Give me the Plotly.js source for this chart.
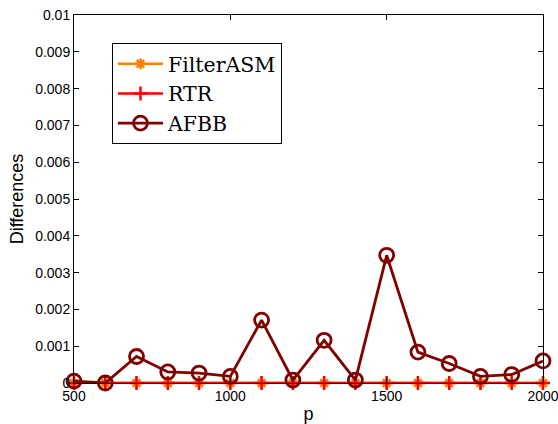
<!DOCTYPE html>
<html><head><meta charset="utf-8">
<script src="https://cdn.plot.ly/plotly-3.0.1.min.js"></script>
<style>html,body{margin:0;padding:0;background:#fff}</style>
</head><body><div id="chart" style="width:558px;height:424px"></div>
<script>
const p = [500,600,700,800,900,1000,1100,1200,1300,1400,1500,1600,1700,1800,1900,2000];
const filterASM = [0,0,0,0,0,0,0,0,0,0,0,0,0,0,0,0];
const rtr = [0,0,0,0,0,0,0,0,0,0,0,0,0,0,0,0];
const afbb = [0.00005,0.0,0.00072,0.0003,0.00027,0.00018,0.00171,0.00008,0.00116,0.00008,0.00347,0.00084,0.00053,0.00018,0.00023,0.0006];
const xTicks = [500,1000,1500,2000];
const yTicks = [0,0.001,0.002,0.003,0.004,0.005,0.006,0.007,0.008,0.009,0.01];
const yTickText = ['0','0.001','0.002','0.003','0.004','0.005','0.006','0.007','0.008','0.009','0.01'];

const traces = [
  {x:p, y:filterASM, name:'FilterASM', mode:'lines+markers', cliponaxis:false,
   line:{color:'#FF8000', width:2.5}, marker:{symbol:'asterisk-open', size:9, color:'#FF8000', line:{color:'#FF8000', width:2.5}}},
  {x:p, y:rtr, name:'RTR', mode:'lines+markers', cliponaxis:false,
   line:{color:'#FF0000', width:2.5}, marker:{symbol:'cross-thin-open', size:10, color:'#FF0000', line:{color:'#FF0000', width:2.5}}},
  {x:p, y:afbb, name:'AFBB', mode:'lines+markers', cliponaxis:false,
   line:{color:'#800000', width:2.8}, marker:{symbol:'circle-open', size:14, color:'#800000', line:{color:'#800000', width:2.8}}}
];

const layout = {
  width:558, height:424,
  margin:{l:74, r:15, t:15, b:41},
  paper_bgcolor:'#fff', plot_bgcolor:'#fff',
  showlegend:true,
  font:{family:'Liberation Sans, Arial, sans-serif', size:14, color:'#000'},
  xaxis:{range:[500,2000], tickvals:xTicks, ticktext:xTicks.map(String), ticks:'inside', ticklen:5, tickcolor:'#000',
    showline:true, linecolor:'#000', linewidth:1, mirror:'ticks', showgrid:false, zeroline:false,
    ticklabeloverflow:'allow',
    tickfont:{size:14}, title:{text:'p', font:{size:18}, standoff:4}},
  yaxis:{range:[0,0.01], tickvals:yTicks, ticktext:yTickText, ticks:'inside', ticklen:5, tickcolor:'#000',
    showline:true, linecolor:'#000', linewidth:1, mirror:'ticks', showgrid:false, zeroline:false,
    ticklabeloverflow:'allow',
    tickfont:{size:14}, title:{text:'Differences', font:{size:18}, standoff:6}},
  legend:{x:0.081, y:0.924, xanchor:'left', yanchor:'top', bgcolor:'#fff', bordercolor:'#000', borderwidth:1,
    font:{family:'DejaVu Serif, serif', size:20.5, color:'#000'}, tracegroupgap:0, itemwidth:45}
};
Plotly.newPlot('chart', traces, layout, {displayModeBar:false, staticPlot:true});
</script></body></html>
